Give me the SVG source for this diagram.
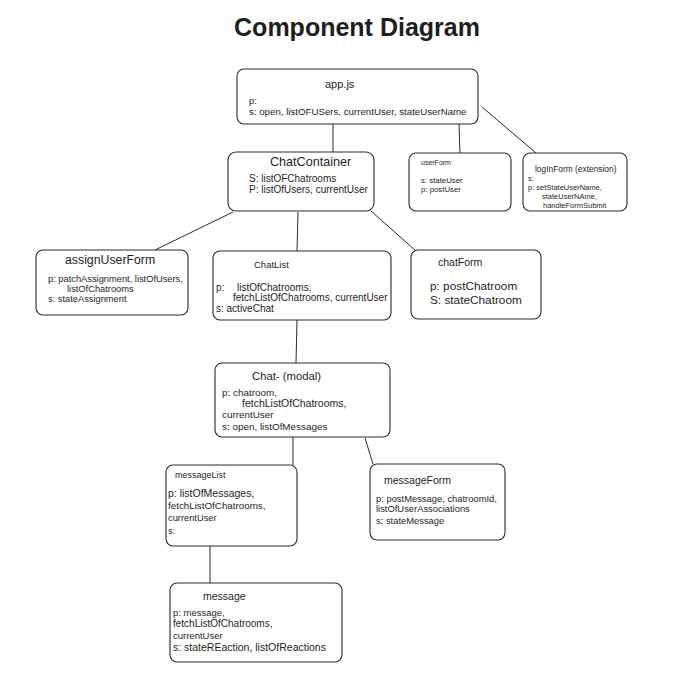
<svg xmlns="http://www.w3.org/2000/svg" width="675" height="676" viewBox="0 0 675 676">
<style>
.box{fill:#fff;stroke:#2a2a2a;stroke-width:1.1}
text{font-family:"Liberation Sans","DejaVu Sans",sans-serif;fill:#1e1e1e}
.c{stroke:#2a2a2a;stroke-width:1;fill:none}
</style>
<rect width="675" height="676" fill="#fff"/>
<text x="357" y="36" text-anchor="middle" font-size="25" font-weight="bold">Component Diagram</text>
<g id="connectors">
<line class="c" x1="333" y1="124" x2="333" y2="152"/>
<line class="c" x1="459" y1="124" x2="460" y2="153"/>
<line class="c" x1="482" y1="107" x2="536" y2="153"/>
<line class="c" x1="233" y1="212" x2="155" y2="250"/>
<line class="c" x1="298" y1="212" x2="297" y2="251"/>
<line class="c" x1="371" y1="211" x2="416" y2="251"/>
<line class="c" x1="297" y1="320" x2="296" y2="363"/>
<line class="c" x1="293" y1="437" x2="293" y2="465"/>
<line class="c" x1="365" y1="438" x2="373" y2="464"/>
<line class="c" x1="210" y1="546" x2="210" y2="583"/>
</g>
<g id="appjs">
<rect class="box" x="237" y="69" width="241" height="55" rx="7"/>
<text x="325" y="88" font-size="11">app.js</text>
<text x="249" y="104" font-size="9.5">p:</text>
<text x="249" y="115" font-size="9.7">s: open, listOFUSers, currentUser, stateUserName</text>
</g>
<g id="ChatContainer">
<rect class="box" x="228" y="152" width="146" height="59" rx="8"/>
<text x="270" y="166" font-size="12.6">ChatContainer</text>
<text x="249" y="182" font-size="10">S:  listOFChatrooms</text>
<text x="249" y="193" font-size="10">P:  listOfUsers, currentUser</text>
</g>
<g id="userForm">
<rect class="box" x="409" y="153" width="102" height="58" rx="7"/>
<text x="421" y="165" font-size="7">userForm</text>
<text x="421" y="183" font-size="7.8">s: stateUser</text>
<text x="421" y="192" font-size="7.8">p: postUser</text>
</g>
<g id="logInForm">
<rect class="box" x="523" y="153" width="104" height="58" rx="7"/>
<text x="535" y="172" font-size="8.4">logInForm (extension)</text>
<text x="528" y="181" font-size="7.5">s:</text>
<text x="528" y="190" font-size="7.5">p: setStateUserName,</text>
<text x="542" y="199" font-size="7.5">stateUserNAme,</text>
<text x="543" y="208" font-size="7.5">handleFormSubmit</text>
</g>
<g id="assignUserForm">
<rect class="box" x="36" y="250" width="152" height="65" rx="7"/>
<text x="65" y="264" font-size="12.3">assignUserForm</text>
<text x="48" y="282" font-size="9.3">p: patchAssignment, listOfUsers,</text>
<text x="67" y="292" font-size="9.3">listOfChatrooms</text>
<text x="48" y="302" font-size="9.3">s: stateAssignment</text>
</g>
<g id="ChatList">
<rect class="box" x="213" y="251" width="178" height="69" rx="7"/>
<text x="254" y="268" font-size="9.5">ChatList</text>
<text x="216" y="291" font-size="10">p:</text>
<text x="237" y="291" font-size="10">listOfChatrooms,</text>
<text x="233" y="301" font-size="10">fetchListOfChatrooms, currentUser</text>
<text x="216" y="312" font-size="10">s: activeChat</text>
</g>
<g id="chatForm">
<rect class="box" x="411" y="250" width="130" height="69" rx="7"/>
<text x="438" y="266" font-size="10.5">chatForm</text>
<text x="430" y="290" font-size="11.8">p: postChatroom</text>
<text x="430" y="304" font-size="11.8">S: stateChatroom</text>
</g>
<g id="ChatModal">
<rect class="box" x="215" y="363" width="175" height="74" rx="7"/>
<text x="252" y="380" font-size="11.3">Chat- (modal)</text>
<text x="222" y="396" font-size="9.9">p: chatroom,</text>
<text x="242" y="407" font-size="10.5">fetchListOfChatrooms,</text>
<text x="222" y="418" font-size="9.9">currentUser</text>
<text x="222" y="430" font-size="9.9">s: open, listOfMessages</text>
</g>
<g id="messageList">
<rect class="box" x="166" y="465" width="131" height="81" rx="7"/>
<text x="175" y="478" font-size="9">messageList</text>
<text x="168" y="497" font-size="10.5">p: listOfMessages,</text>
<text x="168" y="509" font-size="9.8">fetchListOfChatrooms,</text>
<text x="168" y="521" font-size="9.3">currentUser</text>
<text x="168" y="534" font-size="9.3">s:</text>
</g>
<g id="messageForm">
<rect class="box" x="370" y="464" width="135" height="76" rx="7"/>
<text x="384" y="484" font-size="10.5">messageForm</text>
<text x="376" y="502" font-size="9.4">p: postMessage, chatroomId,</text>
<text x="376" y="512" font-size="9.4">listOfUserAssociations</text>
<text x="376" y="524" font-size="9.4">s: stateMessage</text>
</g>
<g id="message">
<rect class="box" x="170" y="583" width="172" height="79" rx="7"/>
<text x="203" y="600" font-size="10.5">message</text>
<text x="173" y="616" font-size="9.5">p: message,</text>
<text x="173" y="627" font-size="10">fetchListOfChatrooms,</text>
<text x="173" y="639" font-size="9.5">currentUser</text>
<text x="173" y="651" font-size="10.5">s: stateREaction, listOfReactions</text>
</g>
</svg>
